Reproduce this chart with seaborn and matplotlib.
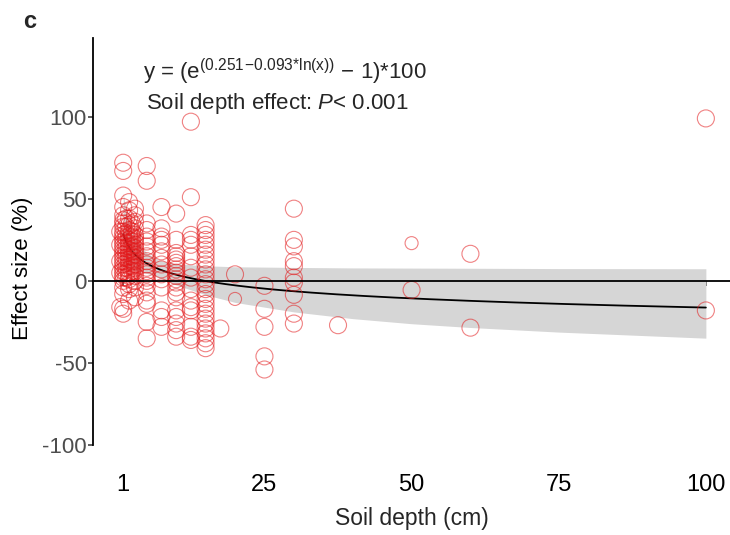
import numpy as np
import pandas as pd
import matplotlib
matplotlib.use("Agg")
import matplotlib.pyplot as plt
import seaborn as sns

# Effect sizes (%) grouped by soil sampling depth (cm)
eff_d0_5 = [30, 22, 12, 5, -16]
eff_d1 = [72, 67, 52, 45, 40, 37, 35, 33, 30, 28, 26, 24, 22, 20, 18, 16, 14,
          12, 10, 8, 6, 4, 2, 0, -4, -8, -17, -20]
eff_d1_5 = [38, 33, 29, 26, 23, 20, 17, 14, 11, 8, 5, 2]
eff_d2 = [48, 43, 38, 34, 31, 29, 27, 25, 23, 21, 19, 17, 15, 13, 11, 9, 7, 5,
          3, 1, -2, -5, -12]
eff_d2_5 = [35, 30, 27, 24, 21, 18, 15, 12, 9, 6]
eff_d3 = [44, 40, 36, 32, 28, 26, 24, 22, 20, 18, 16, 14, 12, 10, 8, 6, 3, 0,
          -4, -10]
eff_d5 = [70, 61, 35, 31, 27, 24, 21, 18, 15, 12, 10, 8, 6, 4, 2, 0, -3, -7,
          -12, -14, -25, -35]
eff_d7_5 = [45, 32, 27, 25, 22, 18, 14, 10, 7, 4, 1, -4, -18, -22, -28]
eff_d10 = [41, 25, 17, 15, 13, 11, 9, 7, 5, 3, 1, -1, -4, -7, -10, -18, -22,
           -26, -30, -34]
eff_d12_5 = [97, 51, 28, 25, 22, 15, 8, 2, -5, -12, -16, -18, -28, -34, -36]
eff_d15 = [34, 31, 28, 25, 22, 19, 16, 13, 10, 7, 4, 1, -2, -5, -8, -11, -14,
           -17, -20, -23, -26, -29, -32, -35, -38, -41]
eff_d17_5 = [-29]
eff_d20 = [4]
eff_d25 = [-3, -17, -28, -46, -54]
eff_d30 = [44, 25, 21, 12, 9, 2, -1, -8.5, -20, -26]
eff_d37_5 = [-27]
eff_d50 = [-5.5]
eff_d60 = [16.5, -28.5]
eff_d100 = [99, -18]

# studies with low weight (smaller symbols)
small_depth = [50, 20]
small_effect = [23, -11]

# fitted model: ln(1 + y/100) = a + b * ln(depth)
fit_a = 0.251
fit_b = -0.093

# 95% confidence band of the fit
band_depth = [1, 1.5, 2, 3, 4, 5, 7, 10, 15, 20, 30, 40, 50, 60, 75, 100]
band_upper = [53.6, 42.9, 35.8, 26.7, 20.9, 17.1, 12.7, 10.4, 9.2, 8.6, 8.2,
              7.9, 7.8, 7.7, 7.5, 7.4]
band_lower = [7.6, 7.2, 6.9, 6.3, 5.5, 4.6, 2.0, -2.5, -8.5, -13.1, -18.9,
              -23.0, -26.1, -28.4, -31.2, -34.9]

x_ticks = [1, 25, 50, 75, 100]
x_tick_labels = ["1", "25", "50", "75", "100"]
y_ticks = [-100, -50, 0, 50, 100]
y_tick_labels = ["-100", "-50", "0", "50", "100"]

groups = [
    (0.5, eff_d0_5), (1, eff_d1), (1.5, eff_d1_5), (2, eff_d2),
    (2.5, eff_d2_5), (3, eff_d3), (5, eff_d5), (7.5, eff_d7_5),
    (10, eff_d10), (12.5, eff_d12_5), (15, eff_d15), (17.5, eff_d17_5),
    (20, eff_d20), (25, eff_d25), (30, eff_d30), (37.5, eff_d37_5),
    (50, eff_d50), (60, eff_d60), (100, eff_d100),
]
df = pd.DataFrame(
    [(d, v) for d, vals in groups for v in vals], columns=["depth", "effect"]
)
df_small = pd.DataFrame({"depth": small_depth, "effect": small_effect})

sns.set_style("white")
plt.rcParams["font.family"] = ["Liberation Sans", "DejaVu Sans"]
plt.rcParams["mathtext.fontset"] = "custom"
plt.rcParams["mathtext.rm"] = "Liberation Sans"
plt.rcParams["mathtext.it"] = "Liberation Sans:italic"
plt.rcParams["mathtext.bf"] = "Liberation Sans:bold"
plt.rcParams["axes.unicode_minus"] = False

W, H = 730, 535
fig = plt.figure(figsize=(W / 100, H / 100), dpi=100)
ax = fig.add_axes([93 / W, 1 - 445 / H, (W - 93) / W, (445 - 38) / H])

RED = "#E31A1C"

ax.fill_between(band_depth, band_lower, band_upper, color="#D6D6D6", lw=0,
                zorder=1)

curve_x = np.linspace(1, 100, 400)
curve_y = (np.exp(fit_a + fit_b * np.log(curve_x)) - 1) * 100
sns.lineplot(x=curve_x, y=curve_y, color="black", lw=1.3, ax=ax, zorder=3)

sns.scatterplot(data=df, x="depth", y="effect", s=150, facecolors="none",
                edgecolor=RED, linewidth=0.8, alpha=0.55, ax=ax, zorder=4)
sns.scatterplot(data=df_small, x="depth", y="effect", s=88, facecolors="none",
                edgecolor=RED, linewidth=0.8, alpha=0.55, ax=ax, zorder=4)

ax.set_xlim(-4.13, 104.1)
ax.set_ylim(-100, 148)

for side in ("top", "right"):
    ax.spines[side].set_visible(False)
ax.spines["left"].set_linewidth(1.3)
ax.spines["left"].set_color("black")
ax.spines["bottom"].set_position(("data", 0))
ax.spines["bottom"].set_linewidth(1.3)
ax.spines["bottom"].set_color("black")
ax.spines["bottom"].set_zorder(5)

ax.set_xticks(x_ticks)
ax.tick_params(axis="x", direction="out", length=3.5, width=1.1,
               color="#333333", labelbottom=False, bottom=True)
ax.set_yticks(y_ticks)
ax.set_yticklabels(y_tick_labels)
ax.tick_params(axis="y", direction="out", length=3.5, width=1.1,
               color="#333333", labelsize=16, labelcolor="#4D4D4D", pad=1,
               left=True)
ax.set_xlabel("")
ax.set_ylabel("Effect size (%)", fontsize=16, color="black")
ax.yaxis.set_label_coords(-60 / 637, (445 - 268) / 407)

sec = ax.secondary_xaxis("bottom")
sec.set_xticks(x_ticks)
sec.set_xticklabels(x_tick_labels)
sec.tick_params(length=0, labelsize=17, pad=21, labelcolor="black")
sec.spines["bottom"].set_visible(False)
sec.set_xlabel("Soil depth (cm)", fontsize=16.5, labelpad=8)

fig.text(30 / W, 1 - 22 / H, "c", fontsize=17, fontweight="bold",
         ha="center", va="center")
fig.text(143 / W, 1 - 72 / H,
         r"y = ($\mathrm{e}^{(0.251\!-\!0.093{*}\mathrm{ln(x)})}$ $-$ 1)*100",
         fontsize=16, va="center", ha="left")
fig.text(146 / W, 1 - 104 / H, r"Soil depth effect: $\mathit{P}$< 0.001",
         fontsize=16, va="center", ha="left")

fig.savefig("out.png", dpi=100)
